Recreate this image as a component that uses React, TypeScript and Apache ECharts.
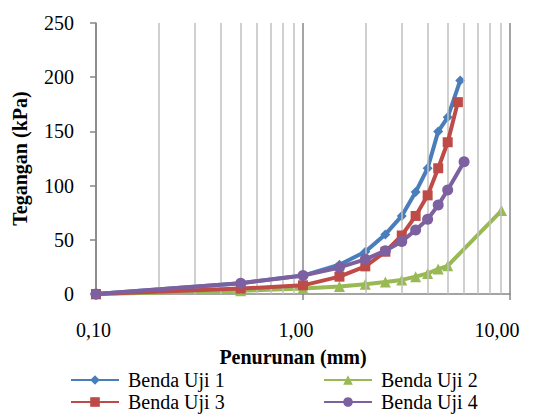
import React, { useEffect, useRef } from "react";
import * as echarts from "echarts";

const seriesNames = ["Benda Uji 1", "Benda Uji 2", "Benda Uji 3", "Benda Uji 4"];

const x1 = [0.1, 0.5, 1.0, 1.5, 2.0, 2.5, 3.0, 3.5, 4.0, 4.5, 5.0, 5.75];
const y1 = [0, 10, 17, 27, 39, 55, 72, 94, 116, 150, 163, 197];

const x2 = [0.1, 0.5, 1.0, 1.5, 2.0, 2.5, 3.0, 3.5, 4.0, 4.5, 5.0, 9.1];
const y2 = [0, 3, 5, 7, 9, 11, 13, 16, 19, 23, 26, 77];

const x3 = [0.1, 0.5, 1.0, 1.5, 2.0, 2.5, 3.0, 3.5, 4.0, 4.5, 5.0, 5.6];
const y3 = [0, 5, 8, 16, 25.5, 39, 54, 72, 91, 116, 140, 177];

const x4 = [0.1, 0.5, 1.0, 1.5, 2.0, 2.5, 3.0, 3.5, 4.0, 4.5, 5.0, 6.0];
const y4 = [0, 10, 17, 24.5, 32, 40, 48.5, 59, 69, 82, 96, 122];

const minorGridValues = [0.2, 0.3, 0.4, 0.5, 0.6, 0.7, 0.8, 0.9, 2, 3, 4, 5, 6, 7, 8, 9];

const colors = ["#4A7EBB", "#98B954", "#BE4B48", "#7D60A0"];
const symbols = ["diamond", "triangle", "rect", "circle"];
const symbolSizes = [10, 11, 10, 11];

const FONT = "'Liberation Serif', 'Times New Roman', serif";

function zip(xs: number[], ys: number[]) {
  return xs.map((x, i) => [x, ys[i]]);
}

export default function App() {
  const ref = useRef<HTMLDivElement>(null);
  useEffect(() => {
    if (!ref.current) return;
    const chart = echarts.init(ref.current, undefined, { renderer: "svg" });
    const datasets = [zip(x1, y1), zip(x2, y2), zip(x3, y3), zip(x4, y4)];
    const dataSeries = seriesNames.map((name, i) => ({
      name,
      type: "line",
      data: datasets[i],
      z: 3 + i,
      symbol: symbols[i],
      symbolSize: symbolSizes[i],
      showAllSymbol: true,
      itemStyle: { color: colors[i] },
      lineStyle: { color: colors[i], width: 4 },
    }));
    const legendCommon = {
      orient: "vertical",
      top: 370,
      padding: 0,
      itemWidth: 48,
      itemHeight: 12,
      itemGap: 2,
      textStyle: {
        fontFamily: FONT,
        fontSize: 20,
        lineHeight: 20,
        color: "#000",
        padding: [0, 0, 0, 4],
      },
    };
    const labelStyle = { fontFamily: FONT, fontSize: 20, color: "#000" };
    chart.setOption({
      animation: false,
      backgroundColor: "#ffffff",
      grid: { left: 96, right: 26, top: 23, bottom: 120, containLabel: false },
      legend: [
        { ...legendCommon, data: [seriesNames[0], seriesNames[2]], left: 70 },
        { ...legendCommon, data: [seriesNames[1], seriesNames[3]], left: 323 },
      ],
      xAxis: {
        type: "log",
        logBase: 10,
        min: 0.1,
        max: 10,
        name: "Penurunan (mm)",
        nameLocation: "middle",
        nameGap: 53,
        nameTextStyle: {
          fontFamily: FONT,
          fontSize: 20,
          fontWeight: "bold",
          color: "#000",
          padding: [0, 20, 0, 0],
        },
        axisLine: { show: true, lineStyle: { color: "#868686", width: 1.5 } },
        axisTick: { show: true, length: 6, lineStyle: { color: "#868686", width: 1.5 } },
        axisLabel: {
          ...labelStyle,
          margin: 26,
          showMinLabel: true,
          showMaxLabel: true,
          formatter: (v: number) => {
            const t = Number(v).toFixed(2).replace(".", ",");
            const k = v < 0.5 ? "a" : v < 5 ? "b" : "c";
            return "{" + k + "|" + t + "}";
          },
          rich: {
            a: { ...labelStyle, padding: [0, 5, 0, 0] },
            b: { ...labelStyle, padding: [0, 14, 0, 0] },
            c: { ...labelStyle, padding: [0, 26, 0, 0] },
          },
        },
        splitLine: { show: true, lineStyle: { color: "#878787", width: 1.5 } },
      },
      yAxis: {
        type: "value",
        min: 0,
        max: 250,
        interval: 50,
        name: "Tegangan (kPa)",
        nameLocation: "middle",
        nameGap: 66,
        nameTextStyle: { fontFamily: FONT, fontSize: 20, fontWeight: "bold", color: "#000" },
        axisLine: { show: true, lineStyle: { color: "#868686", width: 1.5 } },
        axisTick: { show: true, length: 6, lineStyle: { color: "#868686", width: 1.5 } },
        axisLabel: { ...labelStyle, margin: 22 },
        splitLine: { show: false },
      },
      series: [
        {
          name: "_minorGrid",
          type: "line",
          data: [],
          z: 1,
          silent: true,
          markLine: {
            silent: true,
            symbol: "none",
            label: { show: false },
            lineStyle: { color: "#C0C0C0", width: 1.5, type: "solid" },
            emphasis: { disabled: true },
            data: minorGridValues.map((v) => ({ xAxis: v })),
          },
        },
        ...dataSeries,
      ],
    });
    return () => chart.dispose();
  }, []);
  return (
    <div
      ref={ref}
      style={{ position: "absolute", left: 0, top: 0, width: 536, height: 414, overflow: "hidden" }}
    />
  );
}
